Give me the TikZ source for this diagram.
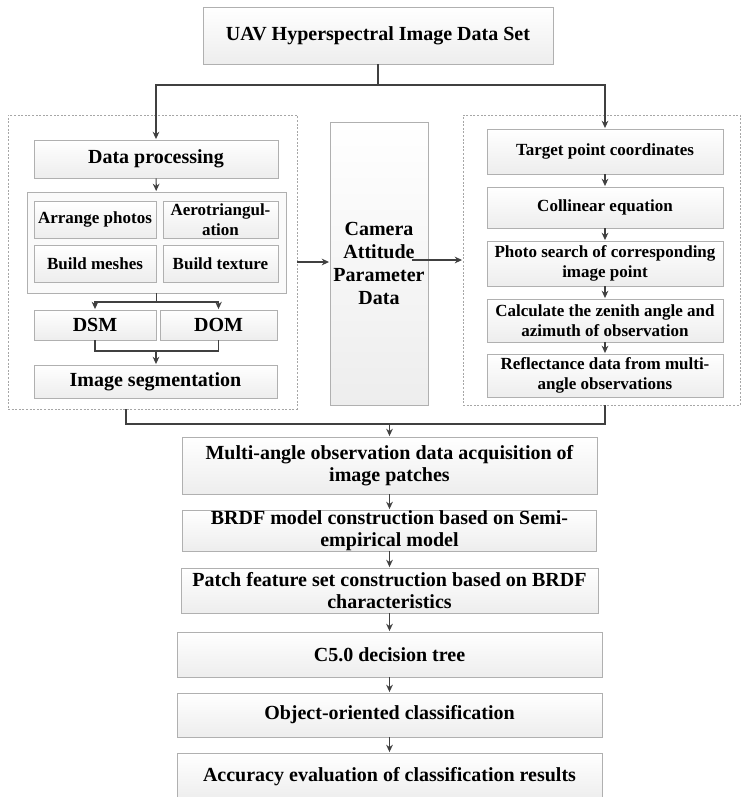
\documentclass[tikz,border=0pt]{standalone}
\usepackage{fontspec}
\setmainfont{Liberation Serif}
\usetikzlibrary{arrows.meta,shadows,positioning}
\definecolor{linegray}{HTML}{404040}
\definecolor{boxgray}{HTML}{B0B0B0}
\tikzset{box/.style={rectangle,draw=boxgray,top color=white,bottom color=black!7,inner sep=0pt,align=center,
			font=\bfseries\fontsize{15}{16.5}\selectfont,
			drop shadow={shadow xshift=0.7pt,shadow yshift=-0.7pt,opacity=0.2}},
		smalltext/.style={font=\bfseries\fontsize{12.75}{15}\selectfont},
		dims/.style 2 args={minimum width=#1*0.75pt,minimum height=#2*0.75pt},
		part/.style={rectangle,draw=black!35,dash pattern=on 1.5pt off 1.2pt,inner sep=0pt},
		group/.style={rectangle,draw=boxgray,fill=black!2,inner sep=0pt},
		line/.style={line width=0.9pt,draw=linegray},
		pre/.style={{Stealth[length=5.5pt,width=5pt]}-,shorten <=0.5pt,line width=0.9pt,draw=linegray},
		post/.style={-{Stealth[length=5.5pt,width=5pt]},shorten >=0.5pt,line width=0.9pt,draw=linegray}}

\begin{document}
\begin{tikzpicture}[x=0.75pt,y=-0.75pt]
		\useasboundingbox (0,0) rectangle (741,797);
		% dashed parts and the grey group
		\node[part,dims={289}{294}] (processing-part) at (152.5,262) {};
		\node[part,dims={277}{290}] (search-part) at (601.5,260) {};
		\node[group,dims={259}{101}] (build-group) at (156.5,242.5) {};
		
		\node[box,dims={350}{57}] (uav-data-set) at (378,35.5) {UAV Hyperspectral Image Data Set};
		
		% left part
		\node[box,dims={244}{38}] (data-processing) at (156,159) {Data processing};
		\node[box,smalltext,dims={122}{37}] (arrange-photos) at (95,219.5) {Arrange photos};
		\node[box,smalltext,dims={115}{37}] (aerotriangulation) at (220.5,219.5) {Aerotriangul-\\ation};
		\node[box,smalltext,dims={122}{37}] (build-meshes) at (95,263.5) {Build meshes};
		\node[box,smalltext,dims={115}{37}] (build-texture) at (220.5,263.5) {Build texture};
		\node[box,dims={122}{30}] (dsm) at (95,325) {DSM};
		\node[box,dims={117}{30}] (dom) at (218.5,325) {DOM};
		\node[box,dims={243}{33}] (image-segmentation) at (155.5,381.5) {Image segmentation};
		
		% camera
		\node[box,dims={98}{283},font=\bfseries\fontsize{15}{17.3}\selectfont] (camera-data) at (379,263.5) {Camera\\Attitude\\Parameter\\Data};
		
		% right part
		\node[box,smalltext,dims={236}{45}] (target-point) at (605,151.5) {Target point coordinates};
		\node[box,smalltext,dims={236}{41}] (collinear-equation) at (605,207.5) {Collinear equation} edge[pre] (target-point);
		\node[box,smalltext,dims={236}{45}] (photo-search) at (605,263.5) {Photo search of corresponding\\image point} edge[pre] (collinear-equation);
		\node[box,smalltext,dims={236}{43}] (zenith-azimuth) at (605,320.5) {Calculate the zenith angle and\\azimuth of observation} edge[pre] (photo-search);
		\node[box,smalltext,dims={236}{43}] (reflectance-data) at (605,375.5) {Reflectance data from multi-\\angle observations} edge[pre] (zenith-azimuth);
		
		% bottom column
		\node[box,dims={415}{57}] (multi-angle) at (389.5,465.5) {Multi-angle observation data acquisition of\\image patches};
		\node[box,dims={414}{41}] (brdf-model) at (389.5,530.5) {BRDF model construction based on Semi-\\empirical model} edge[pre] (multi-angle);
		\node[box,dims={417}{45}] (patch-feature) at (389.5,590.5) {Patch feature set construction based on BRDF\\characteristics} edge[pre] (brdf-model);
		\node[box,dims={425}{45}] (decision-tree) at (389.5,654.5) {C5.0 decision tree} edge[pre] (patch-feature);
		\node[box,dims={425}{44}] (object-classification) at (389.5,715) {Object-oriented classification} edge[pre] (decision-tree);
		\node[box,dims={425}{47}] (accuracy-evaluation) at (389.5,776.5) {Accuracy evaluation of classification results} edge[pre] (object-classification);
		
		% top fork
		\coordinate (top-fork) at (378,85);
		\draw[line] (uav-data-set) -- (top-fork);
		\draw[post] (top-fork) -| (data-processing);
		\draw[post] (top-fork) -| (target-point);
		
		% inside left part
		\draw[post] (data-processing) -- (build-group);
		\coordinate (build-fork) at (156.5,302);
		\draw[line] (build-group) -- (build-fork);
		\draw[post] (build-fork) -| (dsm);
		\draw[post] (build-fork) -| (dom);
		\coordinate (seg-join) at (156,351);
		\draw[line] (dsm) |- (seg-join) -| (dom);
		\draw[post] (seg-join) -- (seg-join |- image-segmentation.north);
		
		% through the camera
		\draw[post] (processing-part.east) -- (processing-part.east -| camera-data.west);
		\draw[post,shorten <=-12pt] (camera-data.east |- search-part.west) -- (search-part.west);
		
		% merge into the bottom column
		\coordinate (seg-out) at (126,409);
		\coordinate (merge) at (389.5,424);
		\draw[line] (seg-out) |- (merge) -| (search-part.south -| target-point);
		\draw[post] (merge) -- (multi-angle);
	\end{tikzpicture}
\end{document}
